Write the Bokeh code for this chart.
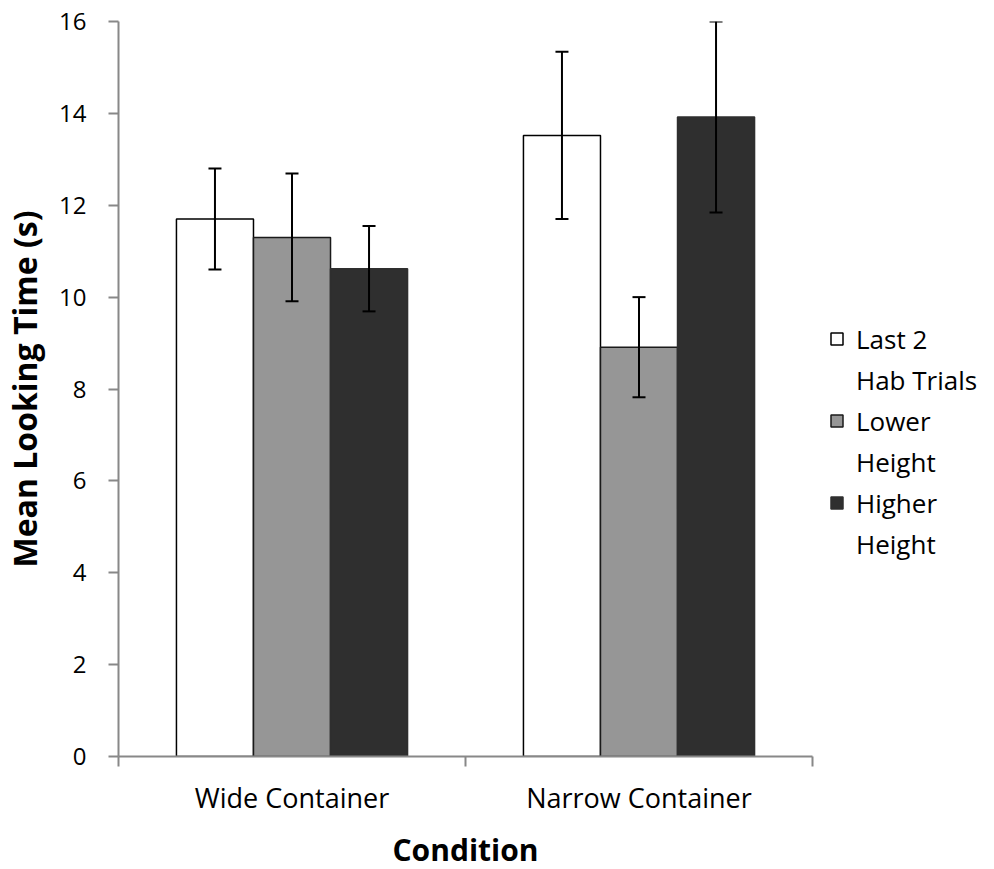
from bokeh.plotting import figure
from bokeh.models import ColumnDataSource, Whisker, FixedTicker, Legend, LegendItem, Range1d
from bokeh.embed import file_html
from bokeh.resources import INLINE

categories = ["Wide Container", "Narrow Container"]
series_lines = [("Last 2", "Hab Trials"), ("Lower", "Height"), ("Higher", "Height")]
last2 = [11.70, 13.52]
last2_err = [1.10, 1.82]
lower = [11.30, 8.91]
lower_err = [1.39, 1.09]
higher = [10.62, 13.92]
higher_err = [0.93, 2.08]
y_ticks = [0, 2, 4, 6, 8, 10, 12, 14, 16]

FONT = "Open Sans"
bar_w = 0.222
offsets = [-bar_w, 0.0, bar_w]
fills = ["#ffffff", "#969696", "#2f2f2f"]
lines = ["#000000", "#1a1a1a", "#2f2f2f"]
values = [last2, lower, higher]
errs = [last2_err, lower_err, higher_err]

centers = [i + 0.5 for i in range(len(categories))]
bounds = [i for i in range(len(categories) + 1)]

p = figure(frame_width=694, frame_height=735, output_backend="svg", toolbar_location=None,
           x_range=Range1d(0, len(categories)), y_range=Range1d(y_ticks[0], y_ticks[-1]),
           min_border_left=111, min_border_top=21, min_border_bottom=100, min_border_right=20)
p.outline_line_color = None
p.grid.grid_line_color = None
p.background_fill_color = "white"

renderers = []
for vals, err, off, fc, lc in zip(values, errs, offsets, fills, lines):
    src = ColumnDataSource(dict(
        x=[c + off for c in centers],
        top=vals,
        up=[v + e for v, e in zip(vals, err)],
        lo=[v - e for v, e in zip(vals, err)],
    ))
    r = p.vbar(x="x", top="top", bottom=0, width=bar_w, source=src,
               fill_color=fc, line_color=lc, line_width=1.5)
    renderers.append(r)
    w = Whisker(source=src, base="x", upper="up", lower="lo",
                line_color="black", line_width=2, level="overlay")
    w.upper_head.size = 13
    w.lower_head.size = 13
    w.upper_head.line_width = 2
    w.lower_head.line_width = 2
    p.add_layout(w)

dummy = p.vbar(x=[], top=[], width=0.1, fill_alpha=0, line_alpha=0)

items = []
for r, (l1, l2) in zip(renderers, series_lines):
    items.append(LegendItem(label=l1, renderers=[r]))
    items.append(LegendItem(label=l2, renderers=[dummy]))

legend = Legend(items=items, location=(17, 192), border_line_color=None,
                background_fill_alpha=0, padding=0, margin=0, spacing=0,
                glyph_width=15, glyph_height=15, label_height=41,
                label_standoff=12, label_text_font=FONT, label_text_font_size="26px",
                label_text_color="black")
p.add_layout(legend, "right")

# y axis
ya = p.yaxis[0]
ya.ticker = FixedTicker(ticks=y_ticks)
ya.axis_label = "Mean Looking Time (s)"
ya.axis_label_text_font = FONT
ya.axis_label_text_font_style = "bold"
ya.axis_label_text_font_size = "32px"
ya.axis_label_text_color = "black"
ya.axis_label_standoff = 10
ya.major_label_text_font = FONT
ya.major_label_text_font_size = "24px"
ya.major_label_text_color = "black"
ya.major_label_standoff = 22
ya.major_tick_in = 0
ya.major_tick_out = 10
ya.minor_tick_line_color = None
ya.axis_line_color = "#888888"
ya.axis_line_width = 2
ya.major_tick_line_color = "#888888"
ya.major_tick_line_width = 2

# x axis
xa = p.xaxis[0]
xa.ticker = FixedTicker(ticks=centers, minor_ticks=bounds)
xa.major_label_overrides = {c: name for c, name in zip(centers, categories)}
xa.axis_label = "Condition"
xa.axis_label_text_font = FONT
xa.axis_label_text_font_style = "bold"
xa.axis_label_text_font_size = "30px"
xa.axis_label_text_color = "black"
xa.axis_label_standoff = 10
xa.major_label_text_font = FONT
xa.major_label_text_font_size = "27px"
xa.major_label_text_color = "black"
xa.major_label_standoff = 12
xa.major_tick_in = 0
xa.major_tick_out = 0
xa.minor_tick_in = 0
xa.minor_tick_out = 10
xa.minor_tick_line_color = "#888888"
xa.minor_tick_line_width = 2
xa.axis_line_color = "#888888"
xa.axis_line_width = 2

open("out.html", "w").write(file_html(p, INLINE))
